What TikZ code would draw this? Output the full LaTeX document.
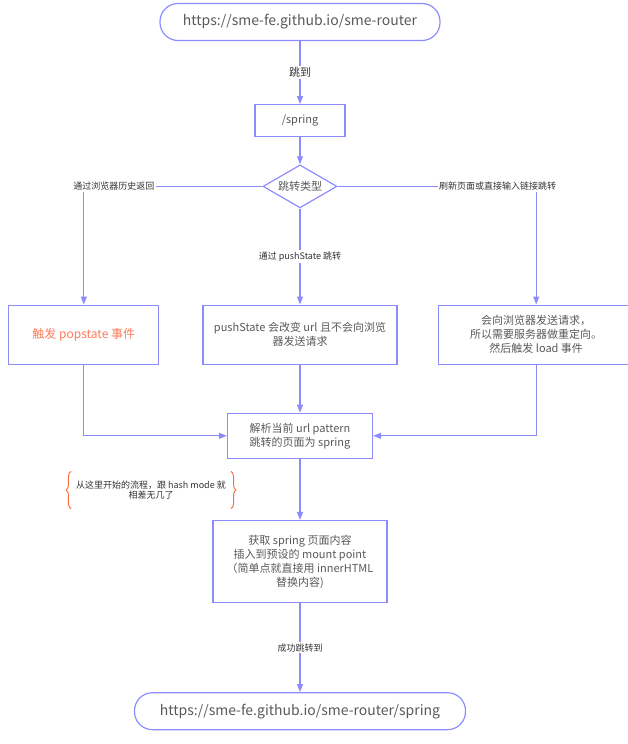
\documentclass[tikz,border=0pt]{standalone}
\usepackage{fontspec}
\setmainfont{Noto Sans CJK SC}
\usepackage{xcolor}
\usepackage{tikz}
\usetikzlibrary{arrows.meta, shapes.geometric, positioning, calc, decorations.pathreplacing}

\definecolor{flowline}{HTML}{8C8CFF}
\definecolor{flowtext}{HTML}{595959}
\definecolor{labeltext}{HTML}{333333}
\definecolor{poptext}{HTML}{FF7A59}
\definecolor{bracecol}{HTML}{FF6E40}

\begin{document}
\begin{tikzpicture}[
		x=1pt, y=-1pt,
		every node/.style={text=flowtext, font=\fontsize{11}{14}\selectfont},
		url/.style={draw=flowline, line width=1.2pt, rounded corners=18pt, minimum height=37pt, inner sep=2pt, font=\fontsize{14}{16}\selectfont},
		box/.style={draw=flowline, line width=1.2pt, align=center, inner sep=2pt},
		choice/.style={draw=flowline, line width=1.2pt, diamond, aspect=1.7, inner sep=1pt, minimum width=74pt, minimum height=43pt},
		edgelabel/.style={fill=white, inner sep=1.5pt, text=labeltext, font=\fontsize{9}{11}\selectfont},
		flow/.style={draw=flowline, line width=1.2pt, -{Triangle[length=8pt, width=6pt]}}
		]
		
		\path[use as bounding box, clip] (0,0) rectangle (628,744);
		
		% Start and first jump
		\node[url, minimum width=280pt] (start) at (300,22) {https://sme-fe.github.io/sme-router};
		\node[box, minimum width=90pt, minimum height=32pt, below=63pt of start] (spring) {/spring};
		\node[choice, below=27pt of spring] (type) {跳转类型};
		
		% Three kinds of jump
		\node[box, minimum width=194pt, minimum height=59pt, below=96pt of type] (push)
			{pushState 会改变 url 且不会向浏览\\器发送请求};
		\node[box, minimum width=150pt, minimum height=59pt, left=43pt of push, text=poptext,
			font=\fontsize{12}{14}\selectfont] (pop) {触发 popstate 事件};
		\node[box, minimum width=196pt, minimum height=59pt, right=40pt of push] (reload)
			{会向浏览器发送请求，\\所以需要服务器做重定向。\\然后触发 load 事件};
		
		% Common part
		\node[box, minimum width=145pt, minimum height=45pt, below=48pt of push] (parse)
			{解析当前 url pattern\\跳转的页面为 spring};
		\node[box, minimum width=174pt, minimum height=82pt, below=61pt of parse] (fetch)
			{获取 spring 页面内容\\插入到预设的 mount point\\（简单点就直接用 innerHTML\\替换内容)};
		\node[url, minimum width=331pt, below=89pt of fetch] (done)
			{https://sme-fe.github.io/sme-router/spring};
		
		% Note with braces
		\node[align=center, inner xsep=5pt, inner ysep=9pt, text=labeltext,
			font=\fontsize{9}{10.5}\selectfont] (note) at (151,490)
			{从这里开始的流程，跟 hash mode 就\\相差无几了};
		\draw[bracecol, line width=1pt, decorate, decoration={brace, amplitude=5pt}]
			(note.south west) -- (note.north west);
		\draw[bracecol, line width=1pt, decorate, decoration={brace, amplitude=5pt}]
			(note.north east) -- (note.south east);
		
		% Arrows
		\draw[flow] (start) -- node[edgelabel, font=\fontsize{11}{13}\selectfont] {跳到} (spring);
		\draw[flow] (spring) -- (type);
		\draw[flow] (type.west) -| node[edgelabel, pos=0.416] {通过浏览器历史返回} (pop.north);
		\draw[flow] (type.east) -| node[edgelabel, pos=0.403] {刷新页面或直接输入链接跳转} (reload.north);
		\draw[flow] (type) -- node[edgelabel] {通过 pushState 跳转} (push);
		\draw[flow] (pop.south) |- (parse.west);
		\draw[flow] (reload.south) |- (parse.east);
		\draw[flow] (push) -- (parse);
		\draw[flow] (parse) -- (fetch);
		\draw[flow] (fetch) -- node[edgelabel] {成功跳转到} (done);
		
	\end{tikzpicture}
\end{document}
